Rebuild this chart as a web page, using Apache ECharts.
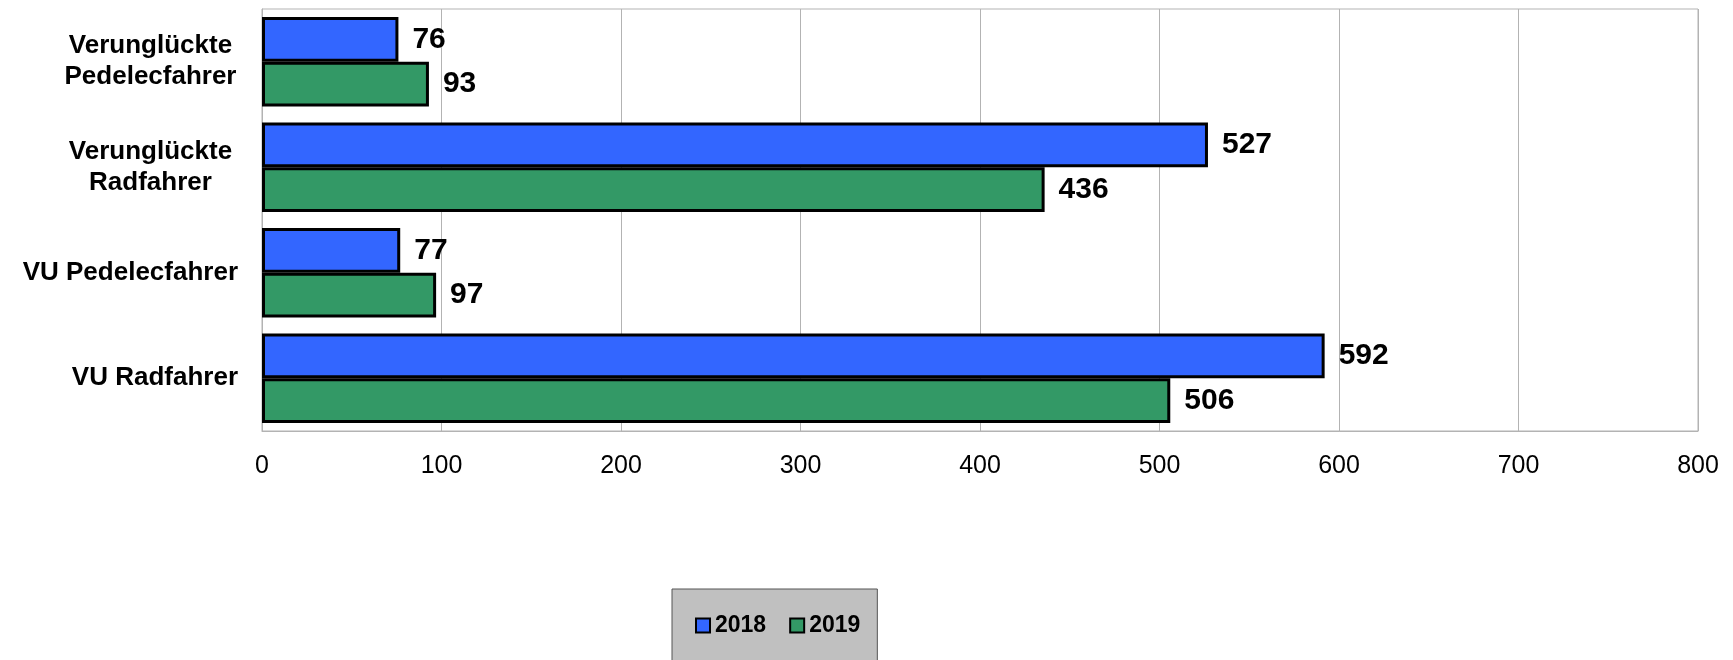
<!DOCTYPE html>
<html>
<head>
<meta charset="utf-8">
<script src="https://cdn.jsdelivr.net/npm/echarts@6/dist/echarts.min.js"></script>
<style>
  html, body { margin: 0; padding: 0; background: #fff; }
  #chart { width: 1733px; height: 660px; }
</style>
</head>
<body>
<div id="chart"></div>
<script>
// Kategorien von oben nach unten
const categories = ['Verunglückte\nPedelecfahrer', 'Verunglückte\nRadfahrer', 'VU Pedelecfahrer', 'VU Radfahrer'];
const werte2018 = [76, 527, 77, 592];
const werte2019 = [93, 436, 97, 506];
const jahre = ['2018', '2019'];
const farben = ['#3366FF', '#339966'];

const chart = echarts.init(document.getElementById('chart'));

const barSeries = (name, data, color) => ({
  name: name,
  type: 'bar',
  data: data,
  barGap: '0%',
  barCategoryGap: '15%',
  itemStyle: { color: color, borderColor: '#000', borderWidth: 3 },
  label: {
    show: true,
    position: 'right',
    distance: 14,
    color: '#000',
    fontFamily: 'Liberation Sans, Arial, sans-serif',
    fontWeight: 'bold',
    fontSize: 30
  }
});

chart.setOption({
  animation: false,
  backgroundColor: '#fff',
  grid: {
    left: 262, right: 35, top: 9, bottom: 229,
    outerBoundsMode: 'none',
    show: true,
    borderColor: '#b3b3b3',
    borderWidth: 1
  },
  legend: {
    data: jahre,
    left: 672,
    top: 589,
    padding: [25, 17, 50, 23],
    backgroundColor: '#c0c0c0',
    borderColor: '#555',
    borderWidth: 1,
    itemWidth: 14,
    itemHeight: 14,
    itemGap: 23,
    icon: 'rect',
    itemStyle: { borderColor: '#000', borderWidth: 2 },
    textStyle: {
      color: '#000',
      fontFamily: 'Liberation Sans, Arial, sans-serif',
      fontWeight: 'bold',
      fontSize: 23
    }
  },
  xAxis: {
    type: 'value',
    min: 0,
    max: 800,
    interval: 100,
    axisLine: { show: true, lineStyle: { color: '#b3b3b3', width: 1 } },
    axisTick: { show: false },
    splitLine: { show: true, lineStyle: { color: '#b3b3b3', width: 1 } },
    axisLabel: {
      margin: 23,
      color: '#000',
      fontFamily: 'Liberation Sans, Arial, sans-serif',
      fontSize: 25
    }
  },
  yAxis: {
    type: 'category',
    inverse: true,
    data: categories,
    axisLine: { show: true, lineStyle: { color: '#b3b3b3', width: 1 } },
    axisTick: { show: false },
    axisLabel: {
      margin: 24,
      color: '#000',
      fontFamily: 'Liberation Sans, Arial, sans-serif',
      fontWeight: 'bold',
      fontSize: 26,
      lineHeight: 31,
      formatter: function (v) {
        if (v.indexOf('\n') < 0) return v;
        return v.split('\n').map(function (l) { return '{c|' + l + '}'; }).join('\n');
      },
      rich: {
        c: {
          width: 175,
          align: 'center',
          color: '#000',
          fontFamily: 'Liberation Sans, Arial, sans-serif',
          fontWeight: 'bold',
          fontSize: 26,
          lineHeight: 31
        }
      }
    }
  },
  series: [
    barSeries(jahre[0], werte2018, farben[0]),
    barSeries(jahre[1], werte2019, farben[1])
  ]
});
</script>
</body>
</html>
